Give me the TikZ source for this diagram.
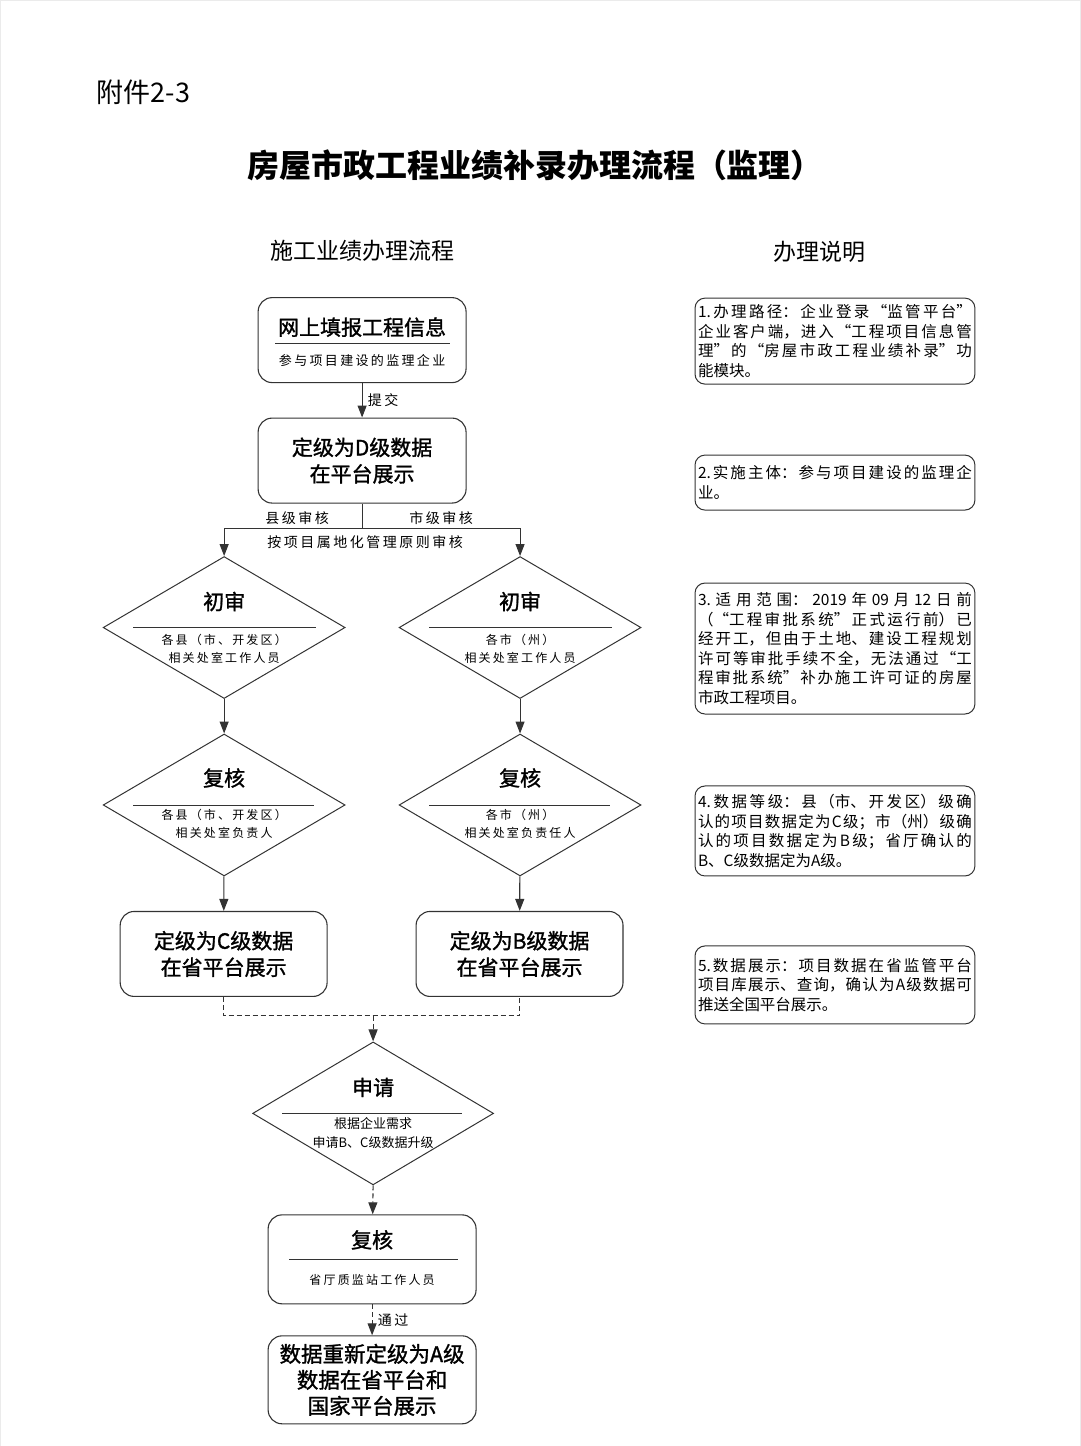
\documentclass[tikz,border=0pt]{standalone}
\usepackage{fontspec}
\setmainfont{Noto Sans CJK SC}
\newfontfamily\spaced[LetterSpace=18]{Noto Sans CJK SC}
\newfontfamily\heavy[FakeBold=1.3]{Noto Sans CJK SC}
\XeTeXlinebreaklocale "zh"
\XeTeXlinebreakskip=0pt plus 2pt
\usetikzlibrary{shapes.geometric,arrows.meta,calc}
\definecolor{ln}{HTML}{333333}

\begin{document}
\begin{tikzpicture}[>={Triangle[length=12pt,width=9pt]},x=1pt,y=-1pt]
    \tikzstyle{box}=[draw=ln,rounded corners=14pt,line width=1.1pt,minimum width=208pt,minimum height=85pt,align=center,font=\heavy\fontsize{21}{26.5}\selectfont]
    \tikzstyle{dia}=[draw=ln,diamond,minimum width=242pt,minimum height=142pt,inner sep=0pt,line width=1pt]
    \tikzstyle{note}=[draw=ln,rounded corners=10pt,line width=1pt,text width=274pt,inner xsep=3pt,inner ysep=2pt,align=justify,font=\fontsize{15.5}{19.5}\selectfont]
    \tikzstyle{ttl}=[font=\heavy\fontsize{21}{25}\selectfont]
    \tikzstyle{small}=[align=center,font=\spaced\fontsize{12}{18}\selectfont]
    \tikzstyle{lbl}=[font=\spaced\fontsize{14}{16}\selectfont]
    \tikzstyle{sep}=[draw=ln,line width=0.8pt]
    \tikzstyle{flow}=[draw=ln,->,line width=1.1pt]
    \tikzstyle{dflow}=[flow,dash pattern=on 5pt off 3pt]
    \useasboundingbox[draw=black!8] (0,0) rectangle (1080,1446);

    % headings
    \node[anchor=west,font=\fontsize{27}{27}\selectfont] (fujian) at (93,92) {附件2-3};
    \node[font=\bfseries\fontsize{32}{32}\selectfont] (title) at (535,165) {房屋市政工程业绩补录办理流程（监理）};
    \node[font=\fontsize{23}{23}\selectfont] (headL) at (362,251) {施工业绩办理流程};
    \node[font=\fontsize{23}{23}\selectfont] (headR) at (820,252) {办理说明};

    % flow, left column
    \node[box] (fill) at (362,340) {};
    \node[ttl] (fillT) at ($(fill)+(0,-13)$) {网上填报工程信息};
    \draw[sep] ($(fill)+(-87,3)$) -- ($(fill)+(88,3)$);
    \node[lbl,font=\spaced\fontsize{13}{16}\selectfont] (fillS) at ($(fill)+(0,20)$) {参与项目建设的监理企业};
    \node[box] (gradeD) at (362,460.5) {定级为D级数据\\在平台展示};
    \coordinate (jn) at (362,528);

    \node[dia] (chuL) at (224,627.5) {};
    \node[ttl] (chuLt) at ($(chuL)+(0,-26)$) {初审};
    \draw[sep] ($(chuL)+(-91,0)$) -- ($(chuL)+(92,0)$);
    \node[small] (chuLs) at ($(chuL)+(0,21)$) {各县（市、开发区）\\相关处室工作人员};
    \node[dia] (chuR) at (520,627.5) {};
    \node[ttl] (chuRt) at ($(chuR)+(0,-26)$) {初审};
    \draw[sep] ($(chuR)+(-91,0)$) -- ($(chuR)+(92,0)$);
    \node[small] (chuRs) at ($(chuR)+(0,21)$) {各市（州）\\相关处室工作人员};

    \node[dia] (fuL) at (224,805) {};
    \node[ttl] (fuLt) at ($(fuL)+(0,-27)$) {复核};
    \draw[sep] ($(fuL)+(-91,0)$) -- ($(fuL)+(90,0)$);
    \node[small] (fuLs) at ($(fuL)+(0,19)$) {各县（市、开发区）\\相关处室负责人};
    \node[dia] (fuR) at (520,805) {};
    \node[ttl] (fuRt) at ($(fuR)+(0,-27)$) {复核};
    \draw[sep] ($(fuR)+(-91,0)$) -- ($(fuR)+(90,0)$);
    \node[small] (fuRs) at ($(fuR)+(0,19)$) {各市（州）\\相关处室负责任人};

    \node[box,minimum width=207pt] (gradeC) at (223.5,954) {定级为C级数据\\在省平台展示};
    \node[box,minimum width=207pt] (gradeB) at (519.5,954) {定级为B级数据\\在省平台展示};
    \coordinate (mg) at (373,1016);

    \node[dia,minimum width=241pt,minimum height=143pt] (apply) at (373,1113.5) {};
    \node[ttl] (applyT) at ($(apply)+(0,-26)$) {申请};
    \draw[sep] ($(apply)+(-91,0)$) -- ($(apply)+(89,0)$);
    \node[align=center,font=\fontsize{13}{19}\selectfont] (applyS) at ($(apply)+(0,20)$) {根据企业需求\\申请B、C级数据升级};

    \node[box,minimum height=89pt] (prov) at (372,1259.5) {};
    \node[ttl] (provT) at ($(prov)+(0,-19.5)$) {复核};
    \draw[sep] ($(prov)+(-83,0)$) -- ($(prov)+(86,0)$);
    \node[small] (provS) at ($(prov)+(0,20.5)$) {省厅质监站工作人员};
    \node[box,minimum height=88pt,font=\heavy\fontsize{21.5}{26}\selectfont] (gradeA) at (372,1380) {数据重新定级为A级\\数据在省平台和\\国家平台展示};

    % connectors
    \draw[flow] (fill) -- node[lbl,right,xshift=2pt] (submit) {提交} (gradeD);
    \draw[draw=ln,line width=1.1pt] (gradeD) -- (jn);
    \draw[flow] (jn) -| (chuL.north);
    \draw[flow] (jn) -| (chuR.north);
    \node[lbl] (county) at (297,518) {县级审核};
    \node[lbl] (city) at (441,518) {市级审核};
    \node[lbl] (local) at (365,542) {按项目属地化管理原则审核};
    \draw[flow] (chuL) -- (fuL);
    \draw[flow] (chuR) -- (fuR);
    \draw[flow] (fuL) -- (gradeC);
    \draw[flow] (fuR) -- (gradeB);
    \draw[draw=ln,line width=1pt,dash pattern=on 5pt off 3pt] (gradeC.south) |- (mg) -| (gradeB.south);
    \draw[dflow] (mg) -- (apply.north);
    \draw[dflow] (apply.south) -- (prov);
    \draw[dflow] (prov) -- node[lbl,right,xshift=2pt] (pass) {通过} (gradeA);

    % notes, right column
    \node[note,minimum height=86pt] (n1) at (835,341) {1.办理路径：企业登录“监管平台”\linebreak 企业客户端，进入“工程项目信息管\linebreak 理”的“房屋市政工程业绩补录”功\linebreak 能模块。};
    \node[note,minimum height=55pt] (n2) at (835,482.5) {2.实施主体：参与项目建设的监理企\linebreak 业。};
    \node[note,minimum height=131pt] (n3) at (835,648.5) {3.适用范围：2019年09月12日前\linebreak （“工程审批系统”正式运行前）已\linebreak 经开工，但由于土地、建设工程规划\linebreak 许可等审批手续不全，无法通过“工\linebreak 程审批系统”补办施工许可证的房屋\linebreak 市政工程项目。};
    \node[note,minimum height=90pt] (n4) at (835,831) {4.数据等级：县（市、开发区）级确\linebreak 认的项目数据定为C级；市（州）级确\linebreak 认的项目数据定为B级；省厅确认的\linebreak B、C级数据定为A级。};
    \node[note,minimum height=78pt] (n5) at (835,985) {5.数据展示：项目数据在省监管平台\linebreak 项目库展示、查询，确认为A级数据可\linebreak 推送全国平台展示。};
\end{tikzpicture}
\end{document}
